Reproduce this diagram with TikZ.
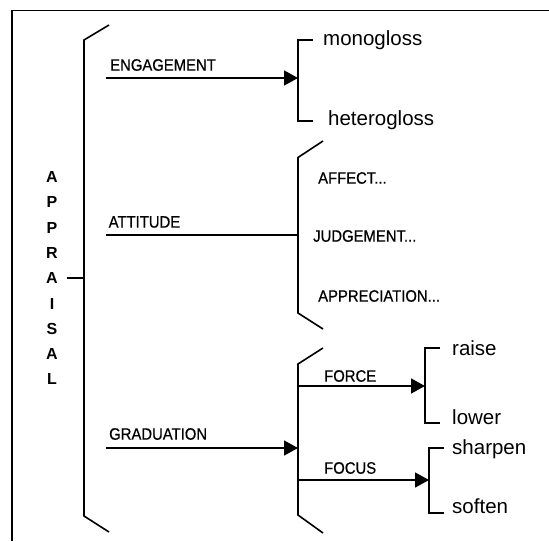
\documentclass[tikz,border=0pt]{standalone}
\usepackage{fontspec}
\setmainfont{Liberation Sans}
\newfontfamily\lblfont[FakeStretch=0.9,FakeBold=0.6]{Liberation Sans}
\usetikzlibrary{arrows.meta}
\begin{document}
\begin{tikzpicture}[x=1pt,y=-1pt,
  ln/.style={line width=1.6pt},
  arr/.style={ln,-{Triangle[length=14pt,width=15pt]}},
  lbl/.style={font=\lblfont\fontsize{16.5}{18}\selectfont, inner sep=0pt, anchor=west},
  big/.style={font=\fontsize{20.5}{22}\selectfont, inner sep=0pt, anchor=west},
  lett/.style={font=\bfseries\fontsize{16}{17}\selectfont, inner sep=0pt}]
\useasboundingbox (0,0) rectangle (549,541);
\draw[line width=1.6pt] (12,541) -- (12,10.5) -- (549,10.5);
% main bracket
\draw[ln] (109,25) -- (84,40) -- (84,516) -- (109,532);
\coordinate (apT) at (66.5,278);
\coordinate (apB) at (84,278);
\draw[ln] (apT) -- (apB);
\foreach \l [count=\i] in {A,P,P,R,A,I,S,A,L}
  \node[lett] (ap\i) at (52,{177+25.3*(\i-1)}) {\l};
% engagement
\node[lbl] (eng) at (110,65) {ENGAGEMENT};
\coordinate (engS) at (106,78);
\coordinate (engB) at (298,78);
\draw[arr] (engS) -- (engB);
\draw[ln] (313,40) -- (298,40) -- (298,121) -- (313,121);
\node[big] (mono) at (323,40) {monogloss};
\node[big] (hetero) at (328,120) {heterogloss};
% attitude
\node[lbl] (att) at (108.5,222) {ATTITUDE};
\coordinate (attS) at (106,235);
\coordinate (attB) at (298,235);
\draw[ln] (attS) -- (attB);
\draw[ln] (323,141) -- (298,157.5) -- (298,313) -- (323,329);
\node[lbl] (aff) at (318,178) {AFFECT...};
\node[lbl] (judg) at (313,236) {JUDGEMENT...};
\node[lbl] (appr) at (318,296) {APPRECIATION...};
% graduation
\node[lbl] (grad) at (109,434) {GRADUATION};
\coordinate (gradS) at (106,448);
\coordinate (gradB) at (298,448);
\draw[arr] (gradS) -- (gradB);
\draw[ln] (323,348) -- (298,364) -- (298,515) -- (323,533);
% force
\node[lbl] (force) at (324,376) {FORCE};
\coordinate (forS) at (298,386);
\coordinate (forB) at (425,386);
\draw[arr] (forS) -- (forB);
\draw[ln] (440,348) -- (425,348) -- (425,423) -- (440,423);
\node[big] (raise) at (452,348) {raise};
\node[big] (lower) at (452,417) {lower};
% focus
\node[lbl] (focus) at (324,468) {FOCUS};
\coordinate (focS) at (298,480);
\coordinate (focB) at (429,480);
\draw[arr] (focS) -- (focB);
\draw[ln] (444,448) -- (429,448) -- (429,513) -- (444,513);
\node[big] (sharpen) at (452,449) {sharpen};
\node[big] (soften) at (452,506) {soften};
\end{tikzpicture}
\end{document}
